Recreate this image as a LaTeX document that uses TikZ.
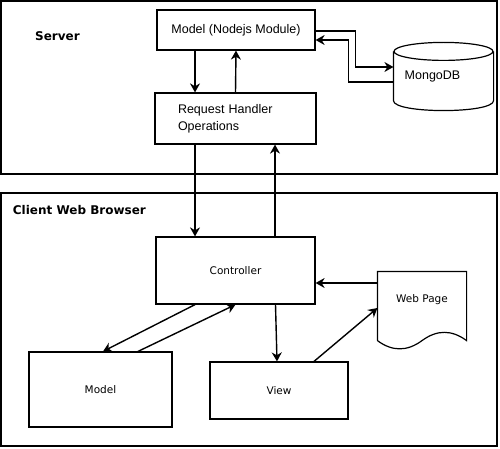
\documentclass[tikz,border=0pt]{standalone}
\usepackage{fontspec}
\newfontfamily\arialfont{Liberation Sans}
\newfontfamily\dejavufont{DejaVu Sans}
\usetikzlibrary{arrows.meta}

\begin{document}
\begin{tikzpicture}[x=1pt,y=-1pt,line width=1.2pt,
    box/.style={draw,rectangle,inner sep=0pt},
    srvtext/.style={font=\arialfont\fontsize{12.5}{17}\selectfont},
    clitext/.style={font=\dejavufont\fontsize{10.5}{13}\selectfont},
    title/.style={font=\dejavufont\bfseries\fontsize{12}{14}\selectfont},
    arr/.style={line width=1.4pt,-{Stealth[length=9pt,width=10pt]}}]
  \useasboundingbox (0,0) rectangle (500,449);

  % 服务器
  \node[box,minimum width=496,minimum height=173] (server) at (249,87.5) {};
  \node[title] (srvlabel) at (57.5,36) {Server};
  \node[box,srvtext,minimum width=158,minimum height=40] (mns) at (236,30) {Model (Nodejs Module)};
  \node[box,srvtext,minimum height=51,inner xsep=23,text width=115,align=left] (rh) at (235.5,118.5)
    {Request Handler\\Operations};
  \node[minimum width=99,minimum height=67,inner sep=0pt] (mongo) at (443.5,76.5) {};
  \draw ([yshift=-9pt]mongo.north) ellipse [x radius=49.5pt,y radius=9pt];
  \draw ([yshift=-9pt]mongo.north west) -- ([yshift=10pt]mongo.south west)
    .. controls ([yshift=-3.3pt]mongo.south west) and ([yshift=-3.3pt]mongo.south east)
    .. ([yshift=10pt]mongo.south east) -- ([yshift=-9pt]mongo.north east);
  \node[srvtext] (mongolabel) at ([xshift=-11pt]mongo.center) {MongoDB};

  \draw[arr] ([xshift=-41pt]mns.south) -- ([xshift=-40.5pt]rh.north);
  \draw[arr] (rh.north) -- (mns.south);
  \draw[arr] ([yshift=-1pt]mns.east) -- ++(40,0) |- ([yshift=9.5pt]mongo.west);
  \draw[arr] ([yshift=-5.5pt]mongo.west) -- ++(-45,0) |- ([yshift=-10pt]mns.east);

  % 客户端
  \node[box,minimum width=496,minimum height=253] (client) at (249,319.5) {};
  \node[title,anchor=west] (clilabel) at (9,210) {Client Web Browser};
  \node[box,clitext,minimum width=159,minimum height=67] (ctrl) at (235.5,270.5) {Controller};
  \node[box,clitext,minimum width=143,minimum height=75] (cmodel) at (100.5,389.5) {Model};
  \node[box,clitext,minimum width=138,minimum height=57] (view) at (279,390.5) {View};
  \node[minimum width=88,minimum height=68,inner sep=0pt] (wp) at (422,306) {};
  \draw (wp.south west) -- (wp.north west) -- (wp.north east) -- (wp.south east)
    .. controls +(-15,-11) and +(15,-11) .. (wp.south)
    .. controls +(-15,11) and +(15,11) .. (wp.south west);
  \node[clitext] (wplabel) at ([yshift=6pt]wp.center) {Web Page};

  \draw[arr] ([xshift=-40.5pt]rh.south) -- ([xshift=-40.5pt]ctrl.north);
  \draw[arr] ([xshift=39.5pt]ctrl.north) -- ([xshift=39.5pt]rh.south);
  \draw[arr] ([xshift=-40.5pt]ctrl.south) -- ([xshift=2.5pt]cmodel.north);
  \draw[arr] ([xshift=37.5pt]cmodel.north) -- (ctrl.south);
  \draw[arr] ([xshift=40pt]ctrl.south) -- ([xshift=-2pt]view.north);
  \draw[arr] ([xshift=35pt]view.north) -- ([yshift=-2pt]wp.west);
  \draw[arr] ([yshift=23pt]wp.west) -- ([yshift=23pt]wp.west -| ctrl.east);
\end{tikzpicture}
\end{document}
